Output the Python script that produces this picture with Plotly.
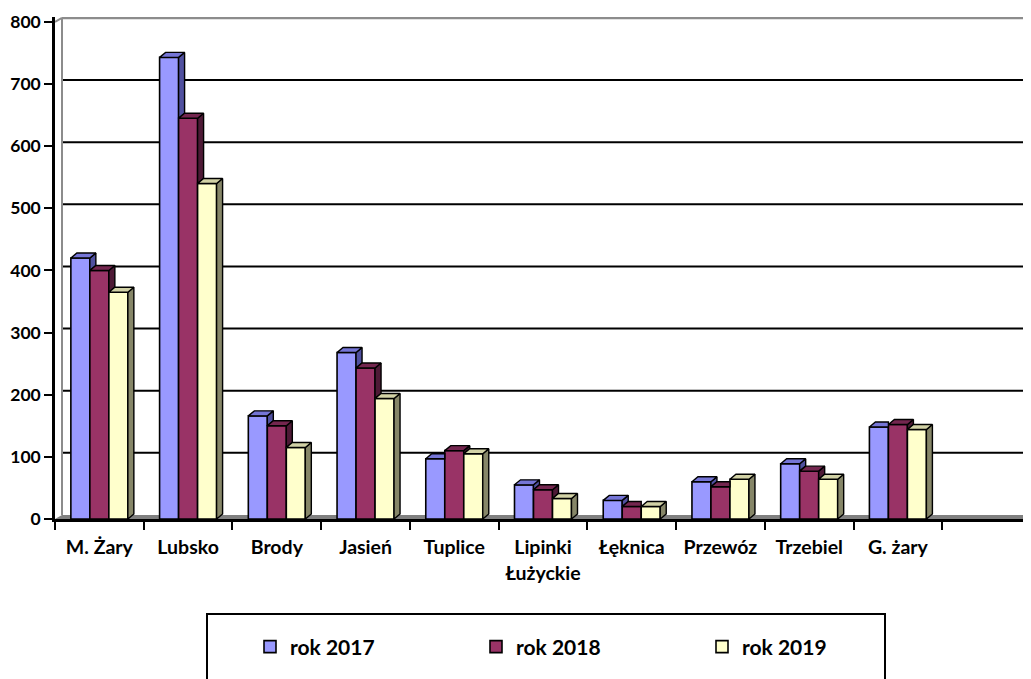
import plotly.graph_objects as go

# ---- data ----
categories = ["M. Żary", "Lubsko", "Brody", "Jasień", "Tuplice",
              "Lipinki<br>Łużyckie", "Łęknica", "Przewóz", "Trzebiel", "G. żary"]
series_names = ["rok 2017", "rok 2018", "rok 2019"]
v2017 = [420, 743, 166, 268, 97, 55, 30, 60, 89, 148]
v2018 = [400, 645, 150, 243, 110, 47, 20, 52, 77, 152]
v2019 = [365, 540, 115, 194, 105, 33, 20, 64, 64, 144]
y_ticks = [0, 100, 200, 300, 400, 500, 600, 700, 800]

series_values = [v2017, v2018, v2019]
front_colors = ["#9999FF", "#993366", "#FFFFCC"]
side_colors = ["#50509F", "#4E1A36", "#868668"]
top_colors = ["#7575D6", "#74264F", "#D2D2A6"]

# ---- geometry (style constants) ----
OFF = 8                      # page body margin of the html page
W, H = 1031 - OFF, 679 - OFF
ML, MR, MT, MB = 55 - OFF, 0, 17 - OFF, 160
n_slots = 11
x_range = [-0.5, n_slots - 0.5]
y_range = [0, 808]
PW, PH = W - ML - MR, H - MT - MB
px_per_x = PW / (x_range[1] - x_range[0])
px_per_y = PH / (y_range[1] - y_range[0])
bw = 19 / px_per_x          # bar width in category units
dx = 6 / px_per_x           # 3D depth (x)
dy = 5 / px_per_y           # 3D depth (y)
dxw = 7 / px_per_x          # wall depth
dyw = 4 / px_per_y


def paper_x(page_px):
    return (page_px - OFF - ML) / PW


def paper_y(page_py):
    return (H - MB - (page_py - OFF)) / PH


FONT = "Lato"

fig = go.Figure()

# front faces as real bars
xs = list(range(len(categories)))
for s, (name, vals) in enumerate(zip(series_names, series_values)):
    fig.add_trace(go.Bar(
        x=xs, y=vals, name=name, width=bw, offset=-1.5 * bw + s * bw,
        marker=dict(color=front_colors[s], line=dict(color="black", width=1.6)),
        hoverinfo="skip"))

# 3D side / top faces (only their visible parts), computed from data
for s, vals in enumerate(series_values):
    side_x, side_y, top_x, top_y = [], [], [], []
    for k, v in enumerate(vals):
        x0 = k - 1.5 * bw + s * bw
        x1 = x0 + bw
        nxt = series_values[s + 1][k] if s + 1 < len(series_values) else None
        if nxt is None:
            side_x += [x1, x1, x1 + dx, x1 + dx, x1, None]
            side_y += [0, v, v + dy, dy, 0, None]
            top_x += [x0, x1, x1 + dx, x0 + dx, x0, None]
            top_y += [v, v, v + dy, v + dy, v, None]
        elif v > nxt:
            side_x += [x1, x1, x1 + dx, x1 + dx, x1, None]
            side_y += [nxt, v, v + dy, nxt + dy, nxt, None]
            top_x += [x0, x1, x1 + dx, x0 + dx, x0, None]
            top_y += [v, v, v + dy, v + dy, v, None]
        else:
            top_x += [x0, x1, x1, x0 + dx, x0, None]
            top_y += [v, v, v + dy, v + dy, v, None]
    if side_x:
        fig.add_trace(go.Scatter(x=side_x, y=side_y, mode="lines", fill="toself",
                                 fillcolor=side_colors[s],
                                 line=dict(color="black", width=1.4),
                                 showlegend=False, hoverinfo="skip"))
    fig.add_trace(go.Scatter(x=top_x, y=top_y, mode="lines", fill="toself",
                             fillcolor=top_colors[s],
                             line=dict(color="black", width=1.4),
                             showlegend=False, hoverinfo="skip"))

shapes = []
# floor
x_end = x_range[1] + 0.2
shapes.append(dict(type="path", xref="x", yref="y", layer="below",
                   path=f"M {x_range[0]},0 L {x_end},0 L {x_end},{dyw} L {x_range[0] + dxw},{dyw} Z",
                   fillcolor="#808080", line=dict(width=0)))
# back wall gridlines
for t in y_ticks[1:-1]:
    shapes.append(dict(type="line", xref="x", yref="y", layer="below",
                       x0=x_range[0] + dxw, x1=x_end, y0=t + dyw, y1=t + dyw,
                       line=dict(color="black", width=2)))
# wall edges (grey)
top = y_ticks[-1]
grey = "#8C8C8C"
shapes += [
    dict(type="line", xref="x", yref="y", layer="below", x0=x_range[0] + dxw, x1=x_range[0] + dxw,
         y0=dyw, y1=top + dyw, line=dict(color=grey, width=2)),
    dict(type="line", xref="x", yref="y", layer="below", x0=x_range[0] + dxw, x1=x_end,
         y0=top + dyw, y1=top + dyw, line=dict(color=grey, width=2.5)),
    dict(type="line", xref="x", yref="y", layer="below", x0=x_range[0], x1=x_range[0] + dxw,
         y0=top, y1=top + dyw, line=dict(color=grey, width=2)),
]
# legend box
shapes.append(dict(type="rect", xref="paper", yref="paper",
                   x0=paper_x(207), x1=paper_x(885),
                   y0=paper_y(614), y1=paper_y(700),
                   line=dict(color="black", width=2), fillcolor="rgba(0,0,0,0)"))

fig.update_layout(
    width=W, height=H, margin=dict(l=ML, r=MR, t=MT, b=MB, autoexpand=False),
    paper_bgcolor="white", plot_bgcolor="white",
    barmode="overlay", shapes=shapes,
    font=dict(family=FONT, size=16, color="black"),
    xaxis=dict(range=x_range, tickmode="array", tickvals=xs, ticktext=categories,
               ticks="", showgrid=False, zeroline=False, showline=True,
               linecolor="black", linewidth=2.5, ticklabelstandoff=9,
               tickfont=dict(family=FONT, size=19.5, weight="bold", color="black"),
               minor=dict(tickmode="array", tickvals=[k - 0.5 for k in range(n_slots + 1)],
                          ticks="outside", ticklen=8, tickwidth=2, tickcolor="black",
                          showgrid=False)),
    yaxis=dict(range=y_range, tickmode="array", tickvals=y_ticks,
               ticks="outside", ticklen=8, tickwidth=2, tickcolor="black",
               showgrid=False, zeroline=False, showline=True, linecolor="black", linewidth=2.5,
               ticklabelstandoff=0,
               tickfont=dict(family=FONT, size=17.5, weight="bold", color="black")),
    legend=dict(orientation="h", x=paper_x(250), xanchor="left",
                y=paper_y(647), yanchor="middle",
                entrywidth=181, entrywidthmode="pixels",
                font=dict(family=FONT, size=21, weight="bold", color="black"),
                bgcolor="rgba(0,0,0,0)", borderwidth=0, itemclick=False),
    showlegend=True,
)

fig.write_html("out.html")
